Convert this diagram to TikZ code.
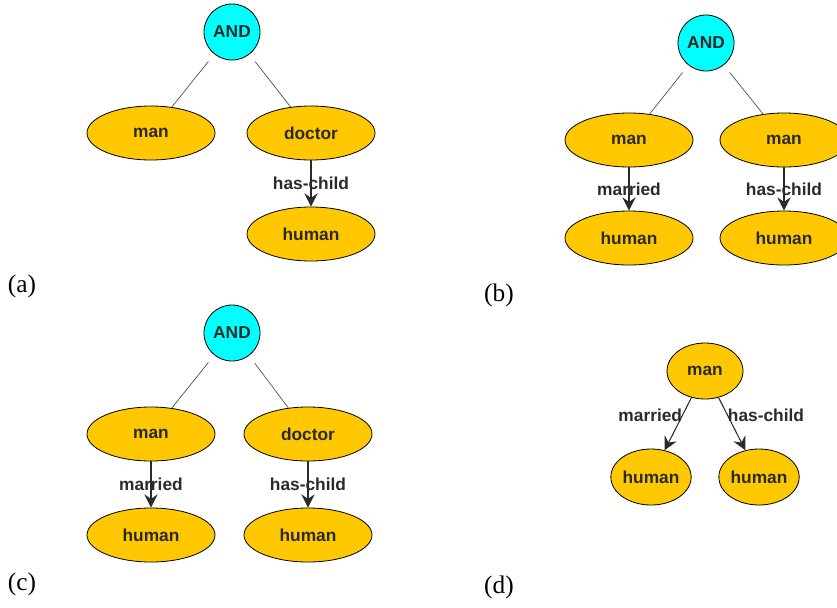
\documentclass[tikz,border=0pt]{standalone}
\usepackage{fontspec}
\setmainfont{Liberation Serif}
\setsansfont{Liberation Sans}
\usetikzlibrary{shapes.geometric,arrows.meta}
\definecolor{andcyan}{HTML}{00FFFF}
\definecolor{nodegold}{HTML}{FFC800}
\definecolor{inkgray}{HTML}{2A2A2A}
\begin{document}
\begin{tikzpicture}[x=0.75pt,y=-0.75pt,
	concept/.style={ellipse,draw=black,fill=nodegold,line width=0.6pt,minimum width=96pt,minimum height=40.5pt,inner sep=0pt,font=\sffamily\bfseries\fontsize{13}{15}\selectfont,text=inkgray},
	smallconcept/.style={concept,minimum width=57pt,minimum height=42pt},
	andnode/.style={circle,draw=black,fill=andcyan,line width=0.6pt,minimum size=42pt,inner sep=0pt,font=\sffamily\bfseries\fontsize{13}{15}\selectfont,text=inkgray},
	branch/.style={draw=inkgray!85,line width=0.5pt,shorten <=7pt},
	role/.style={draw=inkgray,line width=0.8pt,-{Stealth[length=10pt,width=10pt,inset=3.5pt]}},
	rolelabel/.style={font=\sffamily\bfseries\fontsize{13}{15}\selectfont,text=inkgray,inner sep=0pt},
	panel/.style={font=\fontsize{19}{21}\selectfont}]
				\useasboundingbox (0,0) rectangle (837,607);
				\clip (0,0) rectangle (837,607);
				\node[andnode] (andA) at (232,32) {AND};
				\node[concept] (manA) at (151,133) {man};
				\node[concept] (docA) at (311,133) {doctor};
				\node[concept] (humA) at (311,234) {human};
				\draw[branch] (andA) to (manA);
				\draw[branch] (andA) to (docA);
				\draw[role] (docA) to node[midway,rolelabel] {has-child} (humA);
				\node[panel] (labA) at (22,286) {(a)};
				\node[andnode] (andB) at (706,43) {AND};
				\node[concept] (manB1) at (629,140) {man};
				\node[concept] (manB2) at (784,140) {man};
				\node[concept] (humB1) at (629,238) {human};
				\node[concept] (humB2) at (784,238) {human};
				\draw[branch] (andB) to (manB1);
				\draw[branch] (andB) to (manB2);
				\draw[role] (manB1) to node[midway,rolelabel] {married} (humB1);
				\draw[role] (manB2) to node[midway,rolelabel] {has-child} (humB2);
				\node[panel] (labB) at (499,295) {(b)};
				\node[andnode] (andC) at (232,333) {AND};
				\node[concept] (manC) at (151,434) {man};
				\node[concept] (docC) at (308,434) {doctor};
				\node[concept] (humC1) at (151,535) {human};
				\node[concept] (humC2) at (308,535) {human};
				\draw[branch] (andC) to (manC);
				\draw[branch] (andC) to (docC);
				\draw[role] (manC) to node[midway,rolelabel] {married} (humC1);
				\draw[role] (docC) to node[midway,rolelabel] {has-child} (humC2);
				\node[panel] (labC) at (22,584) {(c)};
				\node[smallconcept] (manD) at (705,371) {man};
				\node[smallconcept] (humD1) at (651,477) {human};
				\node[smallconcept] (humD2) at (759,477) {human};
				\draw[role] (manD) to node[pos=0.33,anchor=east,rolelabel] {married} (humD1);
				\draw[role] (manD) to node[pos=0.33,anchor=west,rolelabel] {has-child} (humD2);
				\node[panel] (labD) at (499,587) {(d)};
			\end{tikzpicture}
\end{document}
